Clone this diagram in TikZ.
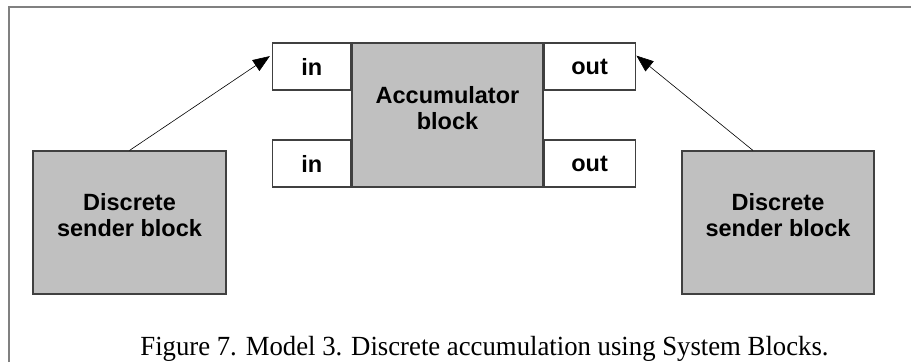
\documentclass[tikz,border=0pt]{standalone}
\usepackage{fontspec}
\setmainfont{Liberation Serif}
\setsansfont{Liberation Sans}
\usetikzlibrary{arrows.meta}
\definecolor{blkgray}{HTML}{C0C0C0}
\definecolor{edgegray}{HTML}{404040}
\definecolor{framegray}{HTML}{808080}
\begin{document}
\begin{tikzpicture}[x=1pt,y=-1pt,
	blk/.style={draw=edgegray,line width=1.1pt,fill=blkgray,inner sep=0},
	port/.style={draw=edgegray,line width=1.1pt,fill=white,minimum height=47pt,inner sep=0,
		font=\sffamily\bfseries\fontsize{23.5}{26.7}\selectfont},
	txt/.style={align=center,inner sep=0,font=\sffamily\bfseries\fontsize{23.5}{26.7}\selectfont},
	link/.style={line width=0.6pt,-{Triangle[length=17pt,width=13pt]}}]
\useasboundingbox (0,0) rectangle (911,362);
\draw[framegray,line width=2pt] (9,362) |- (911,7);
% accumulator and its ports
\node[blk,minimum width=191pt,minimum height=144pt] (acc) at (447.5,115) {};
\node[txt] (acctxt) at ([yshift=7pt]acc.center) {Accumulator\\block};
\node[port,minimum width=78pt,anchor=north east] (inA) at (acc.north west) {in};
\node[port,minimum width=78pt,anchor=south east] (inB) at (acc.south west) {in};
\node[port,minimum width=91pt,anchor=north west] (outA) at (acc.north east) {out};
\node[port,minimum width=91pt,anchor=south west] (outB) at (acc.south east) {out};
% senders
\node[blk,minimum width=193pt,minimum height=143pt] (sendL) at (129.5,222.5) {};
\node[txt] (sendLtxt) at ([yshift=7.5pt]sendL.center) {Discrete\\sender block};
\node[blk,minimum width=192pt,minimum height=143pt] (sendR) at (778,222.5) {};
\node[txt] (sendRtxt) at ([yshift=7.5pt]sendR.center) {Discrete\\sender block};
\draw[link,shorten >=3pt] (sendL.north) -- (inA.163.6);
\draw[link,shorten >=1pt] ([xshift=-25pt]sendR.north) -- (outA.14.2);
\node[anchor=base,inner sep=0,xscale=0.965,font=\fontsize{27.7}{31}\selectfont] (cap) at (484.5,355)
	{Figure 7. Model 3. Discrete accumulation using System Blocks.};
\end{tikzpicture}
\end{document}
